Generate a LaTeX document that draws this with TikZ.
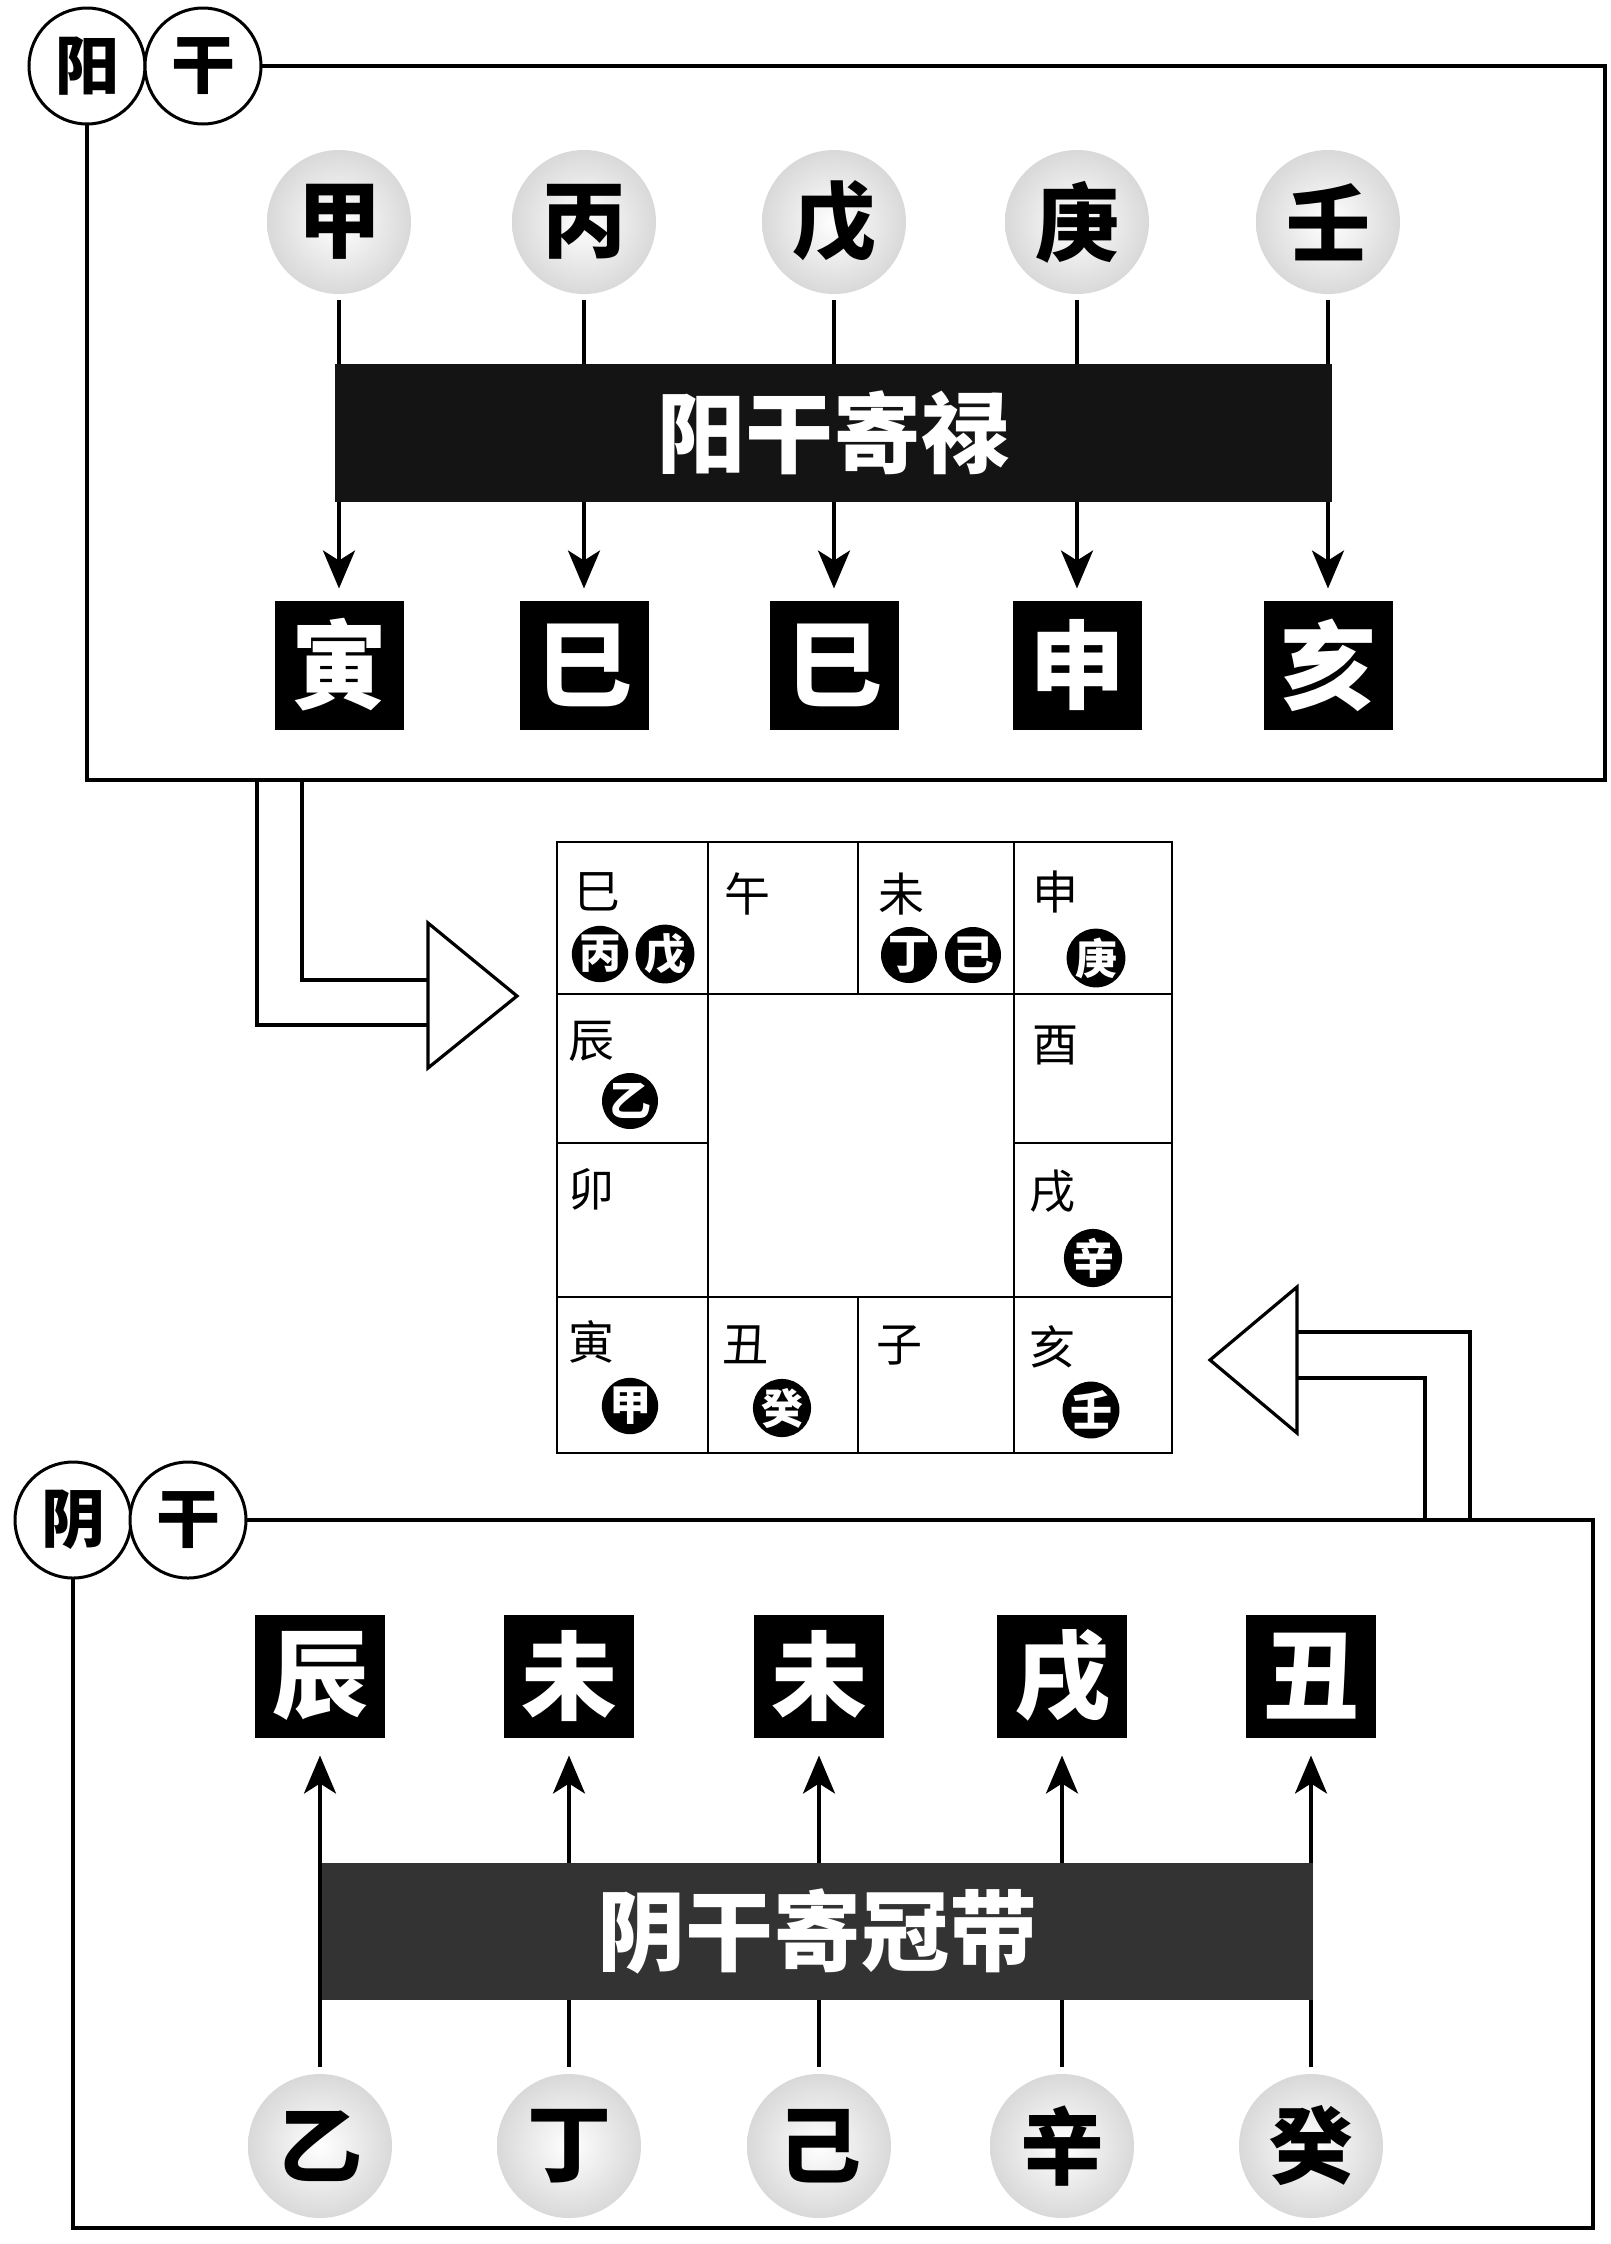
\documentclass[tikz,border=0pt]{standalone}
\usepackage{fontspec}
\newfontfamily\cjk{Noto Sans CJK SC}
\usetikzlibrary{arrows.meta}
\begin{document}
\begin{tikzpicture}[x=0.5pt,y=-0.5pt,
  every node/.style={inner sep=0pt, outer sep=0pt},
  corner/.style={circle, draw, line width=1.5pt, fill=white, minimum size=58pt, font=\cjk\bfseries\fontsize{32}{32}\selectfont},
  stem/.style={circle, minimum size=72pt, inner color=white, outer color=gray!30, font=\cjk\bfseries\fontsize{42}{42}\selectfont},
  branch/.style={fill=black, text=white, minimum width=64.5pt, minimum height=64.5pt, font=\cjk\bfseries\fontsize{48}{48}\selectfont},
  branchb/.style={branch, minimum width=65pt, minimum height=61.5pt},
  bar/.style={fill=black!92, text=white, font=\cjk\bfseries\fontsize{44}{44}\selectfont},
  arr/.style={line width=1.8pt, -{Stealth[length=19pt,width=16pt,inset=5pt]}},
  frame/.style={line width=2pt},
  bigarrow/.style={line width=1.6pt, line join=miter},
  cellline/.style={line width=1.3pt},
  lbl/.style={font=\cjk\fontsize{23}{23}\selectfont},
  dot/.style={circle, fill=black, minimum size=28pt, text=white, font=\cjk\bfseries\fontsize{21}{21}\selectfont},
]
\path[use as bounding box, fill=white] (0,0) rectangle (1611,2244);

% ---------- top section ----------
\node[corner] (yang) at (87,66) {阳};
\node[corner] (gan1) at (203,66) {干};
\draw[frame] (gan1.east) -- (1605,66) -- (1605,780) -- (87,780) -- (yang.south);

\node[stem] (s1) at (339,222) {甲};
\node[stem] (s2) at (584,222) {丙};
\node[stem] (s3) at (834,222) {戊};
\node[stem] (s4) at (1077,222) {庚};
\node[stem] (s5) at (1328,222) {壬};

\node[branch] (b1) at (339,665) {寅};
\node[branch] (b2) at (584,665) {巳};
\node[branch] (b3) at (834,665) {巳};
\node[branch] (b4) at (1077,665) {申};
\node[branch] (b5) at (1328,665) {亥};

\foreach \i in {1,...,5}{
  \draw[arr, shorten <=3pt, shorten >=6pt] (s\i) -- (b\i);
}
\node[bar, minimum width=498.5pt, minimum height=69pt] (bar1) at (833.5,433) {阳干寄禄};

% big arrow into the grid
\draw[bigarrow] (257,780) |- (428,1025);
\draw[bigarrow] (302,780) |- (428,980);
\draw[bigarrow] (428,923) -- (517,996) -- (428,1068) -- cycle;

% ---------- grid ----------
\draw[cellline] (557,842) rectangle (1172,1453);
\draw[cellline] (557,994) -- (1172,994);
\draw[cellline] (557,1297) -- (1172,1297);
\draw[cellline] (708,842) -- (708,1453);
\draw[cellline] (1014,842) -- (1014,1453);
\draw[cellline] (858,842) -- (858,994);
\draw[cellline] (858,1297) -- (858,1453);
\draw[cellline] (557,1143) -- (708,1143);
\draw[cellline] (1014,1143) -- (1172,1143);

\node[lbl] (gsi) at (597,892) {巳};
\node[lbl] (gwu) at (747,894) {午};
\node[lbl] (gwei) at (901,894) {未};
\node[lbl] (gshen) at (1055,892) {申};
\node[lbl] (gchen) at (591,1041) {辰};
\node[lbl] (gyou) at (1055,1045) {酉};
\node[lbl] (gmao) at (591,1189) {卯};
\node[lbl] (gxu) at (1052,1191) {戌};
\node[lbl] (gyin) at (591,1342) {寅};
\node[lbl] (gchou) at (745,1345) {丑};
\node[lbl] (gzi) at (899,1345) {子};
\node[lbl] (ghai) at (1052,1347) {亥};

\node[dot] (dbing) at (600,954) {丙};
\node[dot] (dwu) at (665,954) {戊};
\node[dot] (dding) at (909,955) {丁};
\node[dot] (dji) at (973,955) {己};
\node[dot] (dgeng) at (1096,958) {庚};
\node[dot] (dyi) at (630,1101) {乙};
\node[dot] (dxin) at (1093,1258) {辛};
\node[dot] (djia) at (630,1406) {甲};
\node[dot] (dgui) at (782,1408) {癸};
\node[dot] (dren) at (1091,1410) {壬};

% big arrow from the bottom box
\draw[bigarrow] (1470,1520) |- (1297,1332);
\draw[bigarrow] (1425,1520) |- (1297,1378);
\draw[bigarrow] (1297,1287) -- (1210,1360) -- (1297,1433) -- cycle;

% ---------- bottom section ----------
\node[corner] (yin) at (73,1520) {阴};
\node[corner] (gan2) at (188,1520) {干};
\draw[frame] (gan2.east) -- (1593,1520) -- (1593,2228) -- (73,2228) -- (yin.south);

\node[stem] (t1) at (320,2146) {乙};
\node[stem] (t2) at (569,2146) {丁};
\node[stem] (t3) at (819,2146) {己};
\node[stem] (t4) at (1062,2146) {辛};
\node[stem] (t5) at (1311,2146) {癸};

\node[branchb] (c1) at (320,1676) {辰};
\node[branchb] (c2) at (569,1676) {未};
\node[branchb] (c3) at (819,1676) {未};
\node[branchb] (c4) at (1062,1676) {戌};
\node[branchb] (c5) at (1311,1676) {丑};

\foreach \i in {1,...,5}{
  \draw[arr, shorten <=3.5pt, shorten >=9pt] (t\i) -- (c\i);
}
\node[bar, fill=black!80, minimum width=495.5pt, minimum height=68.5pt] (bar2) at (817.5,1931.5) {阴干寄冠带};
\end{tikzpicture}
\end{document}
